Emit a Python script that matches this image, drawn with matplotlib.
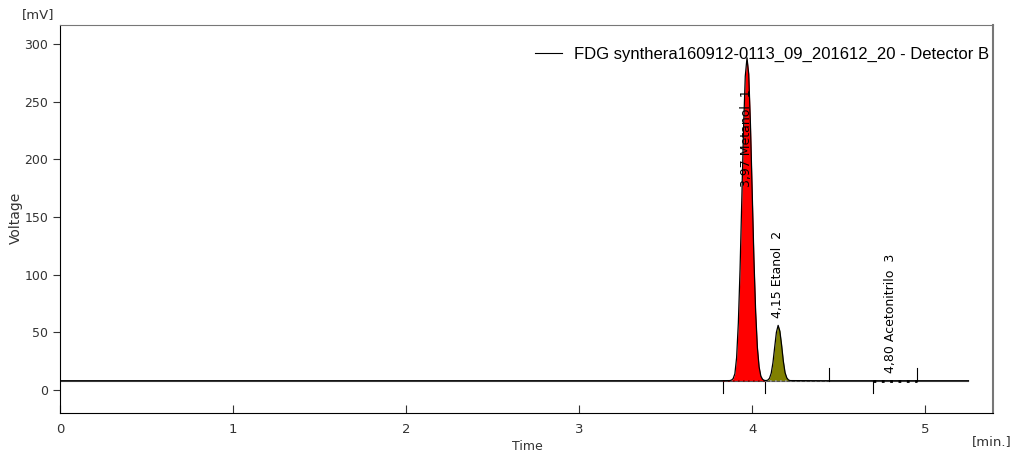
import numpy as np
import matplotlib.pyplot as plt

# chromatogram (min, mV)
time = [0.0, 1.0, 2.0, 3.0, 3.5, 3.8,
        3.87, 3.88, 3.89, 3.90, 3.91, 3.92, 3.93, 3.94, 3.95, 3.96, 3.97,
        3.98, 3.99, 4.00, 4.01, 4.02, 4.03, 4.04, 4.05, 4.06, 4.07,
        4.08, 4.09, 4.10, 4.11, 4.12, 4.13, 4.14, 4.15, 4.16, 4.17, 4.18,
        4.19, 4.20, 4.21, 4.22,
        4.4, 4.6, 4.8, 5.0, 5.25]
voltage = [8.0, 8.0, 8.0, 8.0, 8.0, 8.0,
           8.1, 8.5, 9.8, 14, 28, 58, 105, 165, 226, 272, 288,
           274, 230, 172, 114, 68, 37, 20, 12, 9.2, 8.3,
           8.1, 8.5, 10.1, 14.5, 23.6, 37, 50, 56, 51, 39, 25,
           15, 10.5, 8.6, 8.1,
           8.0, 8.0, 8.0, 8.0, 8.0]
baseline = 8.0

peak_names = ["3,97 Metanol  1", "4,15 Etanol  2", "4,80 Acetonitrilo  3"]
peak_rt = [3.965, 4.145, 4.80]
label_bottom = [176, 62, 15]
peak_start = [3.83, 4.075, 4.70]
peak_end = [4.075, 4.445, 4.955]
peak_fill = ["#ff0000", "#808000", None]
base_style = [("#8b0000", 1.2), ("#999999", 1.2), ("black", 2.0)]

t = np.array(time)
v = np.array(voltage)

fig = plt.figure(figsize=(10.14, 4.54), dpi=100)
ax = fig.add_axes([0.0592, 0.0903, 0.9198, 0.8547])

for i in range(3):
    if peak_fill[i] is not None:
        m = (t >= peak_start[i]) & (t <= peak_end[i])
        ax.fill_between(t[m], baseline, v[m], color=peak_fill[i], lw=0)
    c, w = base_style[i]
    ax.plot([peak_start[i], peak_end[i]], [baseline, baseline], color=c, lw=w, ls=(0, (1, 2)), zorder=3)

ax.plot(t, v, color="black", lw=0.9, zorder=4)
ax.plot([0, 5.25], [baseline, baseline], color="#555555", lw=0.8, zorder=2)

# integration markers
for i in range(3):
    ax.plot([peak_start[i]] * 2, [baseline, baseline - 11], color="black", lw=0.8)
    if i == 0:
        continue
    ax.plot([peak_end[i]] * 2, [baseline, baseline + 11], color="black", lw=0.8)

narrow = ["Liberation Sans Narrow", "DejaVu Sans Condensed", "DejaVu Sans"]
for i in range(3):
    ax.text(peak_rt[i], label_bottom[i], peak_names[i], rotation=90, ha="center", va="bottom",
            fontsize=9, family=narrow, zorder=5)

ax.plot([], [], color="black", lw=0.8, label="FDG synthera160912-0113_09_201612_20 - Detector B")
leg = ax.legend(loc="upper right", bbox_to_anchor=(1.003, 0.96), frameon=False, handlelength=1.6,
                borderaxespad=0.0, handletextpad=0.7,
                prop={"family": "Liberation Sans", "size": 12})

ax.set_xlim(0, 5.39)
ax.set_ylim(-20, 316.5)
ax.set_xticks([0, 1, 2, 3, 4, 5])
ax.set_yticks([0, 50, 100, 150, 200, 250, 300])
ax.tick_params(axis="x", direction="in", length=6, labelsize=9.5, pad=7, colors="#333333")
ax.tick_params(axis="y", direction="out", length=5, labelsize=9, colors="#333333")
ax.spines["top"].set_color("#777777")
ax.spines["right"].set_color("#777777")
ax.spines["right"].set_linewidth(1.5)

fig.text(0.038, 0.96, "[mV]", fontsize=9.5, ha="center", color="#333333")
fig.text(0.978, 0.02, "[min.]", fontsize=9.5, ha="center", color="#333333", family=narrow)
fig.text(0.016, 0.52, "Voltage", rotation=90, fontsize=10, va="center", ha="center", color="#333333")
fig.text(0.52, 0.002, "Time", fontsize=9, ha="center", va="bottom", color="#333333", family=narrow)

fig.savefig("out.png", dpi=100)
